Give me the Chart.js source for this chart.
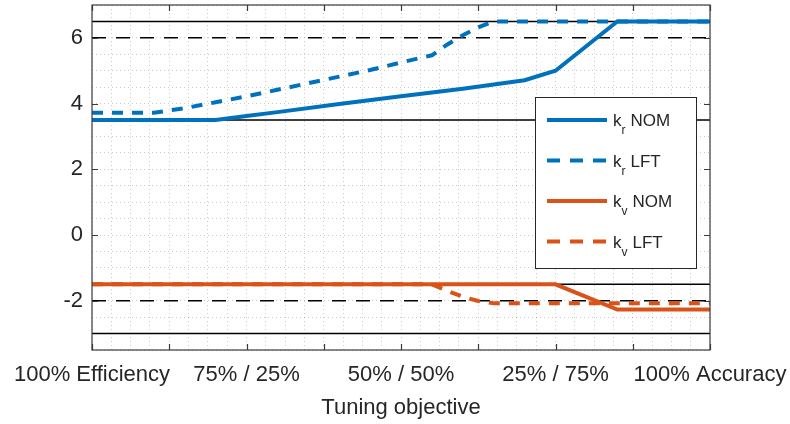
<!DOCTYPE html>
<html lang="en">
<head>
  <meta charset="UTF-8">
  <title>Gain tuning</title>
  <script src="https://cdn.jsdelivr.net/npm/chart.js"></script>
  <style>
    body {
      margin: 0;
      background: #fff;
    }

    #wrap {
      width: 790px;
      height: 424px;
    }
  </style>
</head>
<body>

  <div id="wrap"><canvas id="gainChart" width="790" height="424"></canvas></div>

  <script>
    // axis labels
    const xTickValues = [0, 25, 50, 75, 100];
    const xTickLabels = ['100% Efficiency', '75% / 25%', '50% / 50%', '25% / 75%', '100% Accuracy'];
    const yTickValues = [-2, 0, 2, 4, 6];

    // gains vs tuning objective (0 = efficiency, 100 = accuracy)
    const krNomX = [0, 20, 25, 30, 40, 50, 60, 70, 75, 85, 100];
    const krNomY = [3.5, 3.5, 3.62, 3.74, 3.99, 4.22, 4.45, 4.71, 5.0, 6.5, 6.5];
    const krLftX = [0, 10, 15, 20, 25, 30, 35, 40, 45, 50, 55, 57.5, 60, 62.5, 65, 100];
    const krLftY = [3.72, 3.72, 3.86, 4.04, 4.22, 4.42, 4.62, 4.82, 5.02, 5.25, 5.47, 5.8, 6.08, 6.32, 6.5, 6.5];
    const kvNomX = [0, 75, 85, 100];
    const kvNomY = [-1.5, -1.5, -2.27, -2.27];
    const kvLftX = [0, 55, 57.5, 60, 62.5, 65, 100];
    const kvLftY = [-1.5, -1.5, -1.7, -1.88, -2.01, -2.08, -2.08];

    // black limit lines
    const limitsSolid = [6.5, 3.5, -1.5, -3];
    const limitsDashed = [6, -2];

    const BLUE = '#0072BD';
    const ORANGE = '#D95319';
    const FONT = '"Liberation Sans", Arial, Helvetica, sans-serif';
    const TEXT = '#262626';

    const toPoints = (xs, ys) => xs.map((x, i) => ({ x: x, y: ys[i] }));

    const series = [
      { label: 'NOM', sub: 'r', color: BLUE, dash: [], data: toPoints(krNomX, krNomY) },
      { label: 'LFT', sub: 'r', color: BLUE, dash: [11, 9], data: toPoints(krLftX, krLftY) },
      { label: 'NOM', sub: 'v', color: ORANGE, dash: [], data: toPoints(kvNomX, kvNomY) },
      { label: 'LFT', sub: 'v', color: ORANGE, dash: [11, 9], data: toPoints(kvLftX, kvLftY) }
    ];

    const datasets = series.map(s => ({
      label: 'k' + s.sub + ' ' + s.label,
      data: s.data,
      borderColor: s.color,
      borderWidth: 4,
      borderDash: s.dash,
      pointRadius: 0,
      fill: false,
      order: 0
    }));

    limitsSolid.forEach(v => datasets.push({
      data: [{ x: 0, y: v }, { x: 100, y: v }],
      borderColor: '#000',
      borderWidth: 1.5,
      pointRadius: 0,
      order: 1
    }));
    limitsDashed.forEach(v => datasets.push({
      data: [{ x: 0, y: v }, { x: 100, y: v }],
      borderColor: '#000',
      borderWidth: 1.5,
      borderDash: [14, 10],
      pointRadius: 0,
      order: 1
    }));

    // minor grid positions
    const xGrid = [];
    for (let i = 0; i <= 32; i++) xGrid.push(i * 3.125);
    const yGrid = [];
    for (let i = 0; i <= 21; i++) yGrid.push(-3.5 + i * 0.5);

    // box, inner tick marks and legend
    const framePlugin = {
      id: 'frame',
      afterDatasetsDraw(chart) {
        const { ctx, chartArea: a, scales: { x, y } } = chart;
        ctx.save();
        ctx.strokeStyle = '#3a3a3a';
        ctx.lineWidth = 1.2;
        ctx.setLineDash([]);
        ctx.strokeRect(a.left, a.top, a.right - a.left, a.bottom - a.top);

        ctx.beginPath();
        for (let i = 0; i <= 8; i++) {
          const px = Math.round(x.getPixelForValue(i * 12.5)) + 0.5;
          ctx.moveTo(px, a.bottom); ctx.lineTo(px, a.bottom - 6);
          ctx.moveTo(px, a.top); ctx.lineTo(px, a.top + 6);
        }
        yTickValues.forEach(v => {
          const py = Math.round(y.getPixelForValue(v)) + 0.5;
          ctx.moveTo(a.left, py); ctx.lineTo(a.left + 6, py);
          ctx.moveTo(a.right, py); ctx.lineTo(a.right - 6, py);
        });
        ctx.stroke();

        // legend
        const bx = a.right - 175, by = a.top + 92, bw = 161, bh = 171;
        ctx.fillStyle = '#fff';
        ctx.fillRect(bx, by, bw, bh);
        ctx.strokeStyle = '#262626';
        ctx.lineWidth = 1;
        ctx.strokeRect(bx + 0.5, by + 0.5, bw, bh);

        series.forEach((s, i) => {
          const ly = by + 23 + i * 40.5;
          ctx.strokeStyle = s.color;
          ctx.lineWidth = 4;
          ctx.setLineDash(s.dash.length ? [13, 10] : []);
          ctx.beginPath();
          ctx.moveTo(bx + 12, ly);
          ctx.lineTo(bx + 72, ly);
          ctx.stroke();
          ctx.setLineDash([]);

          ctx.fillStyle = TEXT;
          ctx.textBaseline = 'alphabetic';
          ctx.textAlign = 'left';
          let tx = bx + 78;
          ctx.font = '17px ' + FONT;
          ctx.fillText('k', tx, ly + 6);
          tx += ctx.measureText('k').width;
          ctx.font = '12px ' + FONT;
          ctx.fillText(s.sub, tx, ly + 14);
          tx += ctx.measureText(s.sub).width + 5;
          ctx.font = '17px ' + FONT;
          ctx.fillText(s.label, tx, ly + 6);
        });
        ctx.restore();
      }
    };

    new Chart(document.getElementById('gainChart'), {
      type: 'line',
      data: { datasets: datasets },
      options: {
        responsive: false,
        animation: false,
        devicePixelRatio: 1,
        layout: { padding: { top: 5, right: 80, left: 0, bottom: 0 } },
        plugins: {
          legend: { display: false },
          tooltip: { enabled: false }
        },
        scales: {
          x: {
            type: 'linear',
            min: 0,
            max: 100,
            afterBuildTicks: s => { s.ticks = xGrid.map(v => ({ value: v })); },
            afterFit: s => { s.height = 74; s.paddingLeft = 0; s.paddingRight = 0; },
            ticks: {
              autoSkip: false,
              maxRotation: 0,
              minRotation: 0,
              padding: 12,
              color: TEXT,
              font: { family: FONT, size: 22 },
              callback: v => {
                const i = xTickValues.indexOf(v);
                return i >= 0 ? xTickLabels[i] : '';
              }
            },
            grid: { color: 'rgba(0,0,0,0.2)', lineWidth: 1, drawTicks: false },
            border: { display: false, dash: [1, 3] },
            title: {
              display: true,
              text: 'Tuning objective',
              color: TEXT,
              font: { family: FONT, size: 22 },
              padding: { top: 0, bottom: 3 }
            }
          },
          y: {
            type: 'linear',
            min: -3.5,
            max: 7,
            afterBuildTicks: s => { s.ticks = yGrid.map(v => ({ value: v })); },
            afterFit: s => { s.width = 92; s.paddingTop = 0; s.paddingBottom = 0; },
            ticks: {
              autoSkip: false,
              padding: 9,
              color: TEXT,
              font: { family: FONT, size: 22 },
              callback: v => yTickValues.includes(v) ? String(v) : ''
            },
            grid: { color: 'rgba(0,0,0,0.2)', lineWidth: 1, drawTicks: false },
            border: { display: false, dash: [1, 3] }
          }
        }
      },
      plugins: [framePlugin]
    });
  </script>
</body>
</html>
